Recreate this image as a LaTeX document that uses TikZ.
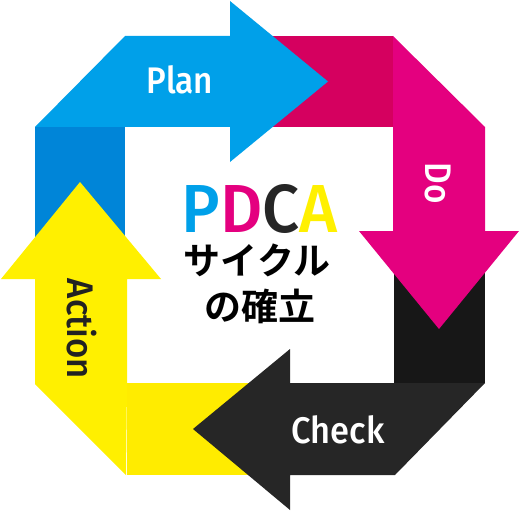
\documentclass[tikz,border=0pt]{standalone}
\usepackage{fontspec}
\IfFontExistsTF{Fira Sans Medium}{\newfontfamily\latin{Fira Sans Medium}}{\newfontfamily\latin{Fira Sans}[FakeBold=1.5]}
\IfFontExistsTF{Noto Sans CJK JP Bold}{\newfontfamily\jp{Noto Sans CJK JP Bold}}{\newfontfamily\jp{Noto Sans CJK JP}[FakeBold=2]}
\definecolor{cyanA}{HTML}{00A0E9}
\definecolor{cyanB}{HTML}{0085D8}
\definecolor{magA}{HTML}{E4007F}
\definecolor{magB}{HTML}{D5005F}
\definecolor{blkA}{HTML}{262626}
\definecolor{blkB}{HTML}{171717}
\definecolor{yelA}{HTML}{FFF000}
\definecolor{yelB}{HTML}{FFEC00}
\definecolor{txtdark}{HTML}{222222}
\tikzset{
  arrowlabel/.style={font=\latin\fontsize{37}{37}\selectfont, inner sep=0pt, anchor=base},
  jptext/.style={font=\jp\fontsize{37}{37}\selectfont, inner sep=0pt, anchor=base, text=black, text depth=0pt},
}
\begin{document}
\begin{tikzpicture}[x=1pt,y=-1pt]
\useasboundingbox (0,0) rectangle (520,511);
% tail segments (covered by the preceding arrow heads)
\fill[cyanB] (35,127) rectangle (125,282);
\fill[magB] (228,36) rectangle (393,127);
\fill[blkB] (394,229) rectangle (485,383);
\fill[yelB] (127,383) rectangle (292,475);
% main arrows
\fill[cyanA] (35,127) -- (125,36) -- (230,36) -- (230,1) -- (328,81.5) -- (230,162) -- (230,127) -- cycle;
\fill[magA] (393,36) -- (485,127) -- (485,231) -- (519,231) -- (439,329) -- (359,231) -- (393,231) -- cycle;
\fill[blkA] (485,383) -- (395,475) -- (290,475) -- (290,510) -- (193,429) -- (290,349) -- (290,383) -- cycle;
\fill[yelA] (126,475) -- (35,384) -- (35,279) -- (1,279) -- (80,182) -- (161,279) -- (127,279) -- (127,384) -- cycle;
% labels
\node[arrowlabel, text=white, xscale=0.9] (plan) at (180,94) {Plan};
\node[arrowlabel, text=white, rotate=-90, xscale=0.9] (do) at (425,183) {Do};
\node[arrowlabel, text=white, xscale=0.93] (check) at (338,443) {Check};
\node[arrowlabel, text=txtdark, rotate=-90, xscale=0.94] (action) at (67,329) {Action};
% centre title
\node[font=\latin\fontsize{68}{68}\selectfont, inner sep=0pt, anchor=base, text depth=0pt, xscale=0.96] (pdca) at (260,232)
  {\textcolor{cyanA}{P}\textcolor{magA}{D}\textcolor{blkA}{C}\textcolor{yelA}{A}};
\node[jptext] (cycle) at (257,274) {サイクル};
\node[jptext] (kakuritsu) at (260,320) {の確立};
\end{tikzpicture}
\end{document}
